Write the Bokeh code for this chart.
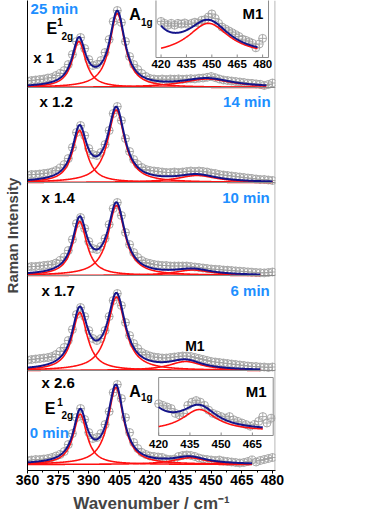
import numpy as np
from bokeh.plotting import figure
from bokeh.models import Range1d, FixedTicker, Span
from bokeh.core.properties import value
from bokeh.embed import file_html
from bokeh.resources import INLINE

FONT = "Liberation Sans"

# ---------------- data ----------------
x_pts = list(range(360, 482, 2))

pts_0min = [4, 4.5, 5, 5, 5.5, 6, 7, 8.5, 10, 13, 20, 31, 47, 56, 45, 32, 26, 27, 31, 40,
            53, 72, 80, 66, 47, 32, 22, 16, 12, 10, 8.5, 8, 7.5, 7, 5.5, 5, 5.5, 8, 9, 9.5,
            9, 8, 6.5, 5.5, 5, 4.5, 4, 4.5, 3.5, 3, 2.5, 2, 1.5, 2, 3, 4.5, 2.5, 4, 5, 6, 7]
pts_6min = [10.5, 11, 11.5, 12, 12.5, 13, 14, 16, 19, 23, 30, 41, 56, 63, 54, 40, 32, 30, 32, 40,
            54, 70, 77, 65, 48, 35, 27, 22, 18, 16, 14.5, 13.5, 13, 12.5, 12.5, 13, 13.5, 14, 14.5, 14.5,
            14, 13, 12, 11, 10, 9, 8.5, 8, 7.5, 7, 6.5, 6, 5.5, 5, 4.5, 4, 4, 3.5, 3.5, 3, 3.5]
pts_10min = [8.5, 9, 9, 9.5, 10, 10.5, 11, 12.5, 15, 18.5, 25, 36, 52, 58, 47, 34, 27, 26, 29, 37,
             51, 67, 73, 60, 43, 31, 23, 18, 15, 13, 12, 11, 10.5, 10, 10, 9.5, 9.5, 9.5, 9.5, 9.5,
             9, 8.5, 8, 7.5, 7, 6.5, 6.2, 6, 5.5, 5.3, 5, 4.6, 4.3, 4, 3.6, 3.3, 3, 2.8, 2.6, 3, 3.5]
pts_14min = [7.5, 8, 8, 8.5, 9, 9.5, 10.5, 12, 14.5, 18, 24, 35, 50, 57, 47, 34, 28, 27, 30, 38,
             52, 69, 76, 62, 44, 31, 23, 18, 15, 13, 12, 11.5, 11, 10.5, 10, 10, 10.5, 10, 10.5, 11,
             11.5, 11, 11.5, 11, 10.5, 9.5, 9, 8, 7.5, 7, 6.5, 6, 5.5, 5, 4.5, 4, 3.5, 3, 3, 2.5, 2]
pts_25min = [6.5, 7, 7.5, 8, 8.5, 9.5, 10, 12, 14, 17, 23, 33, 46, 50, 39, 28, 22, 23, 27, 35,
             48, 66, 77, 65, 46, 31, 23, 18, 14, 11, 9, 8.5, 8, 8.5, 8, 8.5, 8.3, 8.6, 8.2, 8.5,
             8.8, 8.6, 9.3, 9.5, 10.2, 11, 9.8, 8.5, 7.5, 7, 6.5, 6, 5.5, 5, 4.3, 4, 3.6, 3.2, 2, 3, 4.5]

panel_times = ["0 min", "6 min", "10 min", "14 min", "25 min"]
panel_scales = ["x 2.6", "x 1.7", "x 1.4", "x 1.2", "x 1"]
panel_points = [pts_0min, pts_6min, pts_10min, pts_14min, pts_25min]
panel_offsets = [0, 94, 189, 282, 377]

# fitted Lorentzian components: centre, amplitude, half width
e2g_center = [385.8, 385.6, 385.6, 385.5, 385.2]
e2g_amp = [50.5, 58, 54, 52, 46]
e2g_hwhm = [4.0, 4.5, 4.2, 4.2, 4.0]
a1g_center = [403.3, 403.6, 403.6, 403.5, 404.0]
a1g_amp = [77, 73.5, 70, 72.5, 74]
a1g_hwhm = [4.6, 5.2, 5.0, 5.0, 4.5]
m1_center = [439.5, 437.5, 441, 443, 448]
m1_amp = [6.7, 9, 5.5, 7, 8.5]
m1_hwhm = [10, 10, 11, 12, 15]
fit_end = [470, 474, 474, 480, 477]

x_ticks = [360, 375, 390, 405, 420, 435, 450, 465, 480]
x_minor = [367.5, 382.5, 397.5, 412.5, 427.5, 442.5, 457.5, 472.5]
inset_top_ticks = [420, 435, 450, 465, 480]
inset_bot_ticks = [420, 435, 450, 465]

# ---------------- styles ----------------
GRAY = "#a0a0a0"
NAVY = "#14148a"
RED = "#ff1010"
SKY = "#1e8fff"

X0, X1 = 360, 481.5
Y0, Y1 = -6, 464

p = figure(width=366, height=515, x_range=Range1d(X0, X1), y_range=Range1d(Y0, Y1),
           output_backend="svg", toolbar_location=None,
           min_border_left=26, min_border_right=91, min_border_top=0, min_border_bottom=45)
p.grid.visible = False
p.outline_line_color = None
p.background_fill_color = "white"

p.xaxis.ticker = FixedTicker(ticks=x_ticks, minor_ticks=x_minor)
p.xaxis.major_tick_out = 3
p.xaxis.major_tick_in = 0
p.xaxis.minor_tick_out = 2
p.xaxis.minor_tick_in = 0
p.xaxis.major_label_standoff = 1
p.xaxis.major_label_text_font = FONT
p.xaxis.major_label_text_font_style = "bold"
p.xaxis.major_label_text_font_size = "14px"
p.xaxis.major_label_text_color = "black"
p.xaxis.axis_label = "Wavenumber / cm\u207b\u00b9"
p.xaxis.axis_label_text_font = FONT
p.xaxis.axis_label_text_font_style = "bold"
p.xaxis.axis_label_text_font_size = "17px"
p.xaxis.axis_label_standoff = 6
p.xaxis.axis_line_color = "black"

p.yaxis.ticker = FixedTicker(ticks=[])
p.yaxis.major_tick_line_color = None
p.yaxis.minor_tick_line_color = None
p.yaxis.major_label_text_font_size = "0px"
p.yaxis.axis_label = "Raman Intensity"
p.yaxis.axis_label_text_font = FONT
p.yaxis.axis_label_text_font_style = "bold"
p.yaxis.axis_label_text_font_size = "15px"
p.yaxis.axis_label_standoff = 7
p.yaxis.axis_line_color = "black"

# panel separators and right frame
for off in panel_offsets[1:]:
    p.add_layout(Span(location=off, dimension="width", line_color="#8a8a8a", line_width=1))
p.add_layout(Span(location=X1 - 0.2, dimension="height", line_color="#9a9a9a", line_width=1))


def lor(x, c, a, g):
    return a / (1.0 + ((x - c) / g) ** 2)


def components(i, x):
    return (lor(x, e2g_center[i], e2g_amp[i], e2g_hwhm[i]),
            lor(x, a1g_center[i], a1g_amp[i], a1g_hwhm[i]),
            lor(x, m1_center[i], m1_amp[i], m1_hwhm[i]))


# main spectra
for i, pts in enumerate(panel_points):
    off = panel_offsets[i]
    xs = x_pts[:len(pts)]
    p.scatter(xs, [v + off for v in pts], marker="circle_cross", size=8,
              line_color=GRAY, fill_color=None, line_width=0.9)
    xf = np.linspace(360, fit_end[i], 500)
    comps = components(i, xf)
    for c in comps:
        p.line(xf, c + off, line_color=RED, line_width=1.6)
    p.line(xf, sum(comps) + off, line_color=NAVY, line_width=2)


# ---------------- insets ----------------
def px_to_x(px):
    return X0 + (px - 26) * (X1 - X0) / 249.0


def extra(m0, m1, b0, b1, i0, i1):
    k = (i1 - i0) / (b1 - b0)
    return Range1d(i0 - (b0 - m0) * k, i1 + (m1 - b1) * k)


insets = [
    # name, panel index, inset x range, inset y range, box (main coords), ticks, curve span, label y
    ("top", 4, (417, 483.5), (-0.58, 15.1), (px_to_x(155), px_to_x(268), 407, 466),
     inset_top_ticks, (420, 477), 401),
    ("bot", 0, (420, 475), (-1.4, 16.7), (px_to_x(157.7), px_to_x(272.7), 29, 87),
     inset_bot_ticks, (420, 470), 21),
]

for name, pi, (ix0, ix1), (iy0, iy1), (bx0, bx1, by0, by1), ticks, (c0, c1), label_y in insets:
    xr, yr = "x_" + name, "y_" + name
    p.extra_x_ranges[xr] = extra(X0, X1, bx0, bx1, ix0, ix1)
    p.extra_y_ranges[yr] = extra(Y0, Y1, by0, by1, iy0, iy1)
    p.quad(left=[bx0], right=[bx1], bottom=[by0], top=[by1],
           fill_color="white", line_color="#8c8c8c", line_width=1)
    pts = panel_points[pi]
    xs = [x for x in x_pts[:len(pts)] if c0 <= x <= ix1 - 1]
    ys = [pts[x_pts.index(x)] for x in xs]
    p.scatter(xs, ys, marker="circle_cross", size=8, line_color=GRAY, fill_color=None,
              line_width=0.9, x_range_name=xr, y_range_name=yr)
    xf = np.linspace(c0, c1, 300)
    comps = components(pi, xf)
    p.line(xf, comps[2], line_color=RED, line_width=1.6, x_range_name=xr, y_range_name=yr)
    p.line(xf, sum(comps), line_color=NAVY, line_width=2, x_range_name=xr, y_range_name=yr)
    # tick marks and labels
    p.segment(x0=ticks, x1=ticks, y0=[by0] * len(ticks), y1=[by0 + 3] * len(ticks),
              line_color="#8c8c8c", line_width=1, x_range_name=xr)
    p.text(x=ticks, y=[label_y] * len(ticks), text=[str(t) for t in ticks],
           text_font=value(FONT), text_font_style="bold", text_font_size="11.5px",
           text_color="black", text_align="center", text_baseline="middle", x_range_name=xr)


# ---------------- annotations ----------------
def txt(x, y, s, size, color="black", align="left"):
    p.text(x=[x], y=[y], text=[s], text_font=value(FONT), text_font_style="bold",
           text_font_size=size, text_color=color, text_align=align, text_baseline="middle")


txt(361.5, 456, panel_times[4], "15px", SKY)
txt(479.1, 363, panel_times[3], "15px", SKY, "right")
txt(478.7, 267, panel_times[2], "15px", SKY, "right")
txt(478.7, 174, panel_times[1], "15px", SKY, "right")
txt(361.1, 32.3, panel_times[0], "15px", SKY)

txt(362.8, 407, panel_scales[4], "15px")
txt(365.9, 363, panel_scales[3], "15px")
txt(366.8, 267.3, panel_scales[2], "15px")
txt(366.8, 174, panel_scales[1], "15px")
txt(366.8, 82, panel_scales[0], "15px")

txt(442, 118.2, "M1", "14px", align="center")
txt(465.3, 450.7, "M1", "15px")
txt(466.9, 73.2, "M1", "15px")

# E 1 2g and A 1g labels
txt(369.3, 436.5, "E", "16px")
txt(374.6, 442.5, "1", "10px")
txt(376.6, 428, "2g", "10px")
txt(368.4, 56.5, "E", "16px")
txt(374.6, 62.5, "1", "10px")
txt(376.6, 49, "2g", "10px")
txt(409.8, 450, "A", "16px")
txt(415.6, 442.5, "1g", "10px")
txt(409.8, 73, "A", "16px")
txt(415.6, 67.5, "1g", "10px")

open("out.html", "w").write(file_html(p, INLINE, title="Raman spectra"))
